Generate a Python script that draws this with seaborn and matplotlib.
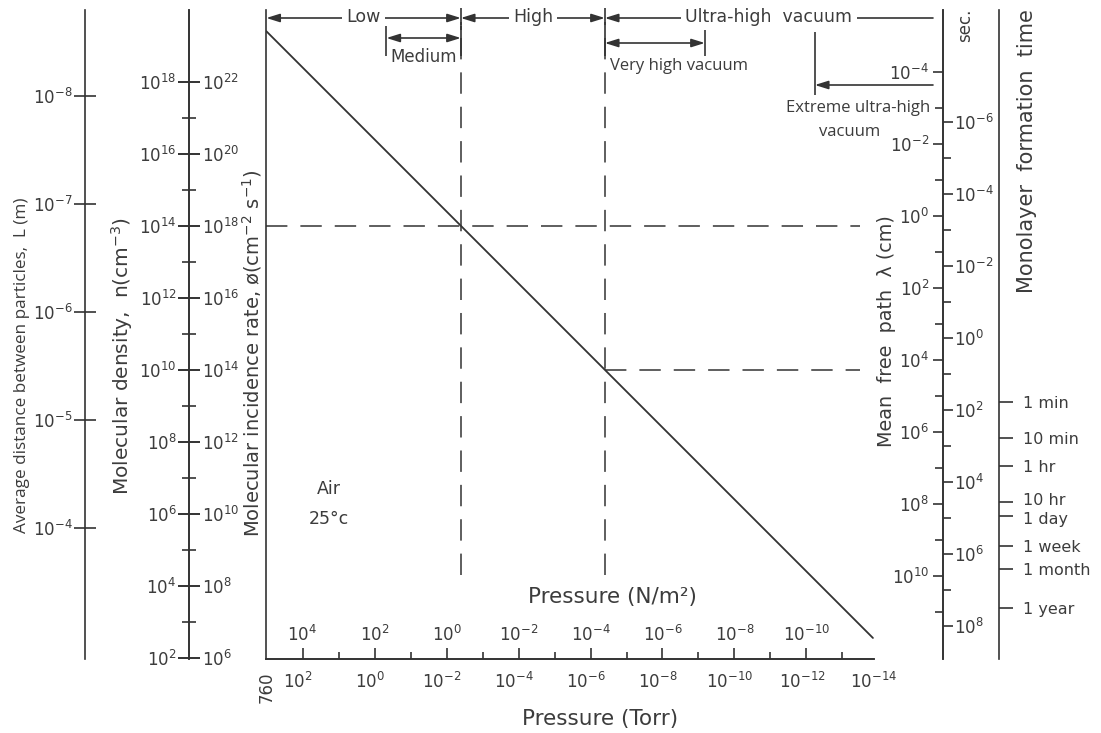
import numpy as np
import matplotlib
matplotlib.use("Agg")
import matplotlib.pyplot as plt
from matplotlib.ticker import NullFormatter
from matplotlib.transforms import ScaledTranslation
import seaborn as sns

# ---- values ----------------------------------------------------------
# the air line: pressure (Torr) against molecular density n (cm^-3)
line_torr = [760, 1.07e-14]
line_density = [2.58e19, 3.6e2]

torr_exp = [2, 0, -2, -4, -6, -8, -10, -12, -14]
torr_minor = [1e1, 1e-1, 1e-3, 1e-5, 1e-7, 1e-9, 1e-11, 1e-13]
pa_exp = [4, 2, 0, -2, -4, -6, -8, -10]
pa_minor = [1e3, 1e1, 1e-1, 1e-3, 1e-5, 1e-7, 1e-9, 1e-11]
density_exp = [18, 16, 14, 12, 10, 8, 6, 4, 2]
density_minor_exp = [17, 15, 13, 11, 9, 7, 5, 3]
flux_exp = [22, 20, 18, 16, 14, 12, 10, 8, 6]
spacing_exp = [-8, -7, -6, -5, -4]
mfp_exp = [-4, -2, 0, 2, 4, 6, 8, 10]
mfp_minor_exp = [-3, -1, 1, 3, 5, 7, 9, 11]
sec_exp = [-6, -4, -2, 0, 2, 4, 6, 8]
sec_minor_exp = [-5, -3, -1, 1, 3, 5, 7]
time_sec = [60, 600, 3600, 36000, 86400, 604800, 2.63e6, 3.156e7]
time_labels = ["1 min", "10 min", "1 hr", "10 hr", "1 day", "1 week", "1 month", "1 year"]

# dashed guides and vacuum ranges (Torr)
guide_torr = [3.0e-3, 3.0e-7]
guide_density = [1e14, 1e10]
guide_end_torr = 2.5e-14
range_names = ["Low", "High", "Ultra-high  vacuum"]
range_edges = [760, 3.0e-3, 3.0e-7, 2.3e-16]
medium_edges = [0.35, 3.0e-3]
very_high_edges = [3.0e-7, 5.0e-10]
extreme_start = 4.4e-13

# scale relations used by the side axes
PA_PER_TORR = 133.32
FLUX_PER_N = 1e4
L_REF, N_REF = 1e-7, 4.1e14
MFP_K = 1.9e14
TAU_K = 7.8e10

def dec(e):
    return "$10^{%d}$" % e

# ---- layout (pixels) ---------------------------------------------------
W, H = 1101, 733
AX_L, AX_R, AX_T, AX_B = 266.3, 874.0, 10.0, 659.0
INK = "#333333"
TXT = "#3c3c3c"
LW = 1.2
HUMANIST = ["Open Sans", "DejaVu Sans"]

def fx(xp):
    return (xp - AX_L) / (AX_R - AX_L)

def fy(yp):
    return (AX_B - yp) / (AX_B - AX_T)

sns.set_theme(style="white")
plt.rcParams["font.family"] = ["DejaVu Sans"]
plt.rcParams["mathtext.fontset"] = "dejavusans"
plt.rcParams["text.color"] = TXT

fig = plt.figure(figsize=(W / 100, H / 100), dpi=100)
ax = fig.add_axes([AX_L / W, 1 - AX_B / H, (AX_R - AX_L) / W, (AX_B - AX_T) / H])
ax.set_xscale("log")
ax.set_yscale("log")
ax.set_xlim(760, 1e-14)
ax.set_ylim(10 ** 1.972, 1e20)

sns.lineplot(x=line_torr, y=line_density, ax=ax, color=INK, linewidth=1.3)

# dashed guides
dash = (0, (14, 8.5))
ax.hlines(guide_density, xmin=[760, guide_torr[1]], xmax=guide_end_torr,
          colors=INK, linewidth=1.1, linestyles=[dash])
trans = ax.get_xaxis_transform()
ax.vlines(guide_torr, fy(575), fy(22), transform=trans, colors=INK,
          linewidth=1.1, linestyles=[dash])

# frame and pressure axes
ax.spines[["top", "right"]].set_visible(False)
for s in ("left", "bottom"):
    ax.spines[s].set_color(INK)
    ax.spines[s].set_linewidth(LW)
ax.tick_params(axis="y", which="both", left=False, labelleft=False)
ax.set_xticks([760] + [10.0 ** e for e in torr_exp], labels=["760"] + [dec(e) for e in torr_exp])
ax.set_xticks(torr_minor, minor=True)
ax.xaxis.set_minor_formatter(NullFormatter())
ax.tick_params(axis="x", which="major", direction="out", length=7, width=LW,
               color=INK, labelcolor=TXT, labelsize=12, pad=2)
ax.tick_params(axis="x", which="minor", direction="out", length=5, width=LW, color=INK)
ax.xaxis.get_major_ticks()[0].label1.set_rotation(90)
ax.set_xlabel("Pressure (Torr)", fontsize=15.5, color=TXT)
ax.xaxis.set_label_coords(600 / W, 1 - 719 / H, transform=fig.transFigure)
ax.xaxis.label.set(va="center", ha="center")

secx = ax.secondary_xaxis(0, functions=(lambda t: t * PA_PER_TORR, lambda p: p / PA_PER_TORR))
secx.set_alignment("top")
secx.set_ticks([10.0 ** e for e in pa_exp], labels=[dec(e) for e in pa_exp])
secx.set_ticks(pa_minor, minor=True)
secx.xaxis.set_minor_formatter(NullFormatter())
secx.tick_params(axis="x", which="major", direction="out", length=8, width=LW,
                 color=INK, labelcolor=TXT, labelsize=12, pad=2)
secx.tick_params(axis="x", which="minor", direction="out", length=5, width=LW, color=INK)
secx.spines["top"].set_color(INK)
secx.spines["top"].set_linewidth(LW)
secx.set_xlabel("Pressure (N/m²)", fontsize=15.5, color=TXT)
secx.xaxis.set_label_coords(612 / W, 1 - 597 / H, transform=fig.transFigure)
secx.xaxis.label.set(va="center", ha="center")


def side_axis(xp, funcs, side, major, labels, minor=None, direction="out",
              length=7, minor_length=5, pad=2, size=12):
    sec = ax.secondary_yaxis(fx(xp), functions=funcs)
    sec.set_alignment(side)
    sec.set_ticks(major, labels=labels)
    if minor is not None:
        sec.set_ticks(minor, minor=True)
    else:
        sec.set_ticks([], minor=True)
    sec.yaxis.set_minor_formatter(NullFormatter())
    sec.tick_params(axis="y", which="major", direction=direction, length=length,
                    width=LW, color=INK, labelcolor=TXT, labelsize=size, pad=pad)
    sec.tick_params(axis="y", which="minor", direction=direction,
                    length=minor_length, width=LW, color=INK)
    for s in ("left", "right"):
        sec.spines[s].set_color(INK)
        sec.spines[s].set_linewidth(LW)
    return sec


def side_label(sec, text, xp, yp, size, family=None):
    sec.set_ylabel(text, fontsize=size, color=TXT, family=family)
    sec.yaxis.set_label_coords(xp / W, 1 - yp / H, transform=fig.transFigure)
    sec.yaxis.label.set(va="center", ha="center", rotation=90, rotation_mode="anchor")


n_to_L = lambda n: L_REF * (np.asarray(n) / N_REF) ** (-1 / 3)
L_to_n = lambda L: N_REF * (np.asarray(L) / L_REF) ** (-3)
sec_L = side_axis(85, (n_to_L, L_to_n), "left", [10.0 ** e for e in spacing_exp],
                  [dec(e) for e in spacing_exp], direction="inout", length=16, pad=1)
side_label(sec_L, "Average distance between particles,  L (m)", 22, 365, 12.3, HUMANIST)

sec_n = side_axis(189, None, "left", [10.0 ** e for e in density_exp],
                  [dec(e) for e in density_exp], [10.0 ** e for e in density_minor_exp],
                  direction="inout", length=16, minor_length=10, pad=1)
side_label(sec_n, "Molecular density,  n(cm$^{-3}$)", 122, 356, 14.5)

sec_phi = side_axis(189, (lambda n: np.asarray(n) * FLUX_PER_N, lambda f: np.asarray(f) / FLUX_PER_N),
                    "right", [10.0 ** e for e in flux_exp], [dec(e) for e in flux_exp],
                    direction="inout", length=16, pad=1)
side_label(sec_phi, "Molecular incidence rate, ø(cm$^{-2}$ s$^{-1}$)", 252, 353, 14)

inv_mfp = lambda v: MFP_K / np.asarray(v)
sec_mfp = side_axis(943, (inv_mfp, inv_mfp), "left", [10.0 ** e for e in mfp_exp],
                    [dec(e) for e in mfp_exp], [10.0 ** e for e in mfp_minor_exp],
                    length=7, minor_length=5.5, pad=3)
side_label(sec_mfp, "Mean  free  path  λ (cm)", 886, 331, 13.8)

inv_tau = lambda v: TAU_K / np.asarray(v)
sec_sec = side_axis(943, (inv_tau, inv_tau), "right", [10.0 ** e for e in sec_exp],
                    [dec(e) for e in sec_exp], [10.0 ** e for e in sec_minor_exp],
                    length=7, minor_length=5.5, pad=1)
fig.text(965 / W, 1 - 25 / H, "sec.", rotation=90, ha="center", va="center", fontsize=12)

sec_time = side_axis(999, (inv_tau, inv_tau), "right", time_sec, time_labels,
                     length=10, pad=7, size=11.5)
side_label(sec_time, "Monolayer  formation  time", 1027, 151, 15)
# "10 hr" and "1 day" sit very close: nudge them apart a little
nudge = {"10 hr": 2.5, "1 day": -2.5}
for tick, lab in zip(sec_time.yaxis.get_major_ticks(), time_labels):
    if lab in nudge:
        for t in (tick.label1, tick.label2):
            t.set_transform(t.get_transform() +
                            ScaledTranslation(0, nudge[lab] / 100, fig.dpi_scale_trans))

# ---- vacuum ranges across the top ------------------------------------
head = "head_length=0.8,head_width=0.25"
for i, name in enumerate(range_names):
    lo, hi = range_edges[i], range_edges[i + 1]
    style = ("<|-|>," if i < len(range_names) - 1 else "<|-,") + head
    ax.annotate("", xy=(hi, fy(18)), xytext=(lo, fy(18)), xycoords=trans,
                arrowprops=dict(arrowstyle=style, color=INK, lw=LW, shrinkA=0,
                                shrinkB=0, mutation_scale=10))
    ax.text(np.sqrt(lo * hi), fy(17), name, transform=trans, ha="center", va="center",
            fontsize=12.5, bbox=dict(fc="white", ec="none", pad=3))

ax.vlines(guide_torr, fy(8), fy(30), transform=trans, colors=INK, linewidth=LW, clip_on=False)

ax.annotate("", xy=(medium_edges[1], fy(38)), xytext=(medium_edges[0], fy(38)), xycoords=trans,
            arrowprops=dict(arrowstyle="<|-|>," + head, color=INK, lw=LW, shrinkA=0,
                            shrinkB=0, mutation_scale=10))
ax.vlines(medium_edges, fy(26), fy(56), transform=trans, colors=INK, linewidth=LW)
ax.text(np.sqrt(medium_edges[0] * medium_edges[1]), fy(57), "Medium", transform=trans,
        ha="center", va="center", fontsize=12)

ax.annotate("", xy=(very_high_edges[1], fy(43)), xytext=(very_high_edges[0], fy(43)),
            xycoords=trans,
            arrowprops=dict(arrowstyle="<|-|>," + head, color=INK, lw=LW, shrinkA=0,
                            shrinkB=0, mutation_scale=10))
ax.vlines(very_high_edges, fy(30), fy(56), transform=trans, colors=INK, linewidth=LW)
ax.annotate("Very high vacuum", xy=(very_high_edges[0], fy(66)), xycoords=trans,
            xytext=(4, 0), textcoords="offset points", ha="left", va="center",
            fontsize=12, family=HUMANIST)

ax.vlines([extreme_start], fy(32), fy(95), transform=trans, colors=INK, linewidth=LW)
ax.annotate("", xy=(extreme_start, fy(85)), xytext=(range_edges[-1], fy(85)), xycoords=trans,
            arrowprops=dict(arrowstyle="-|>," + head, color=INK, lw=LW, shrinkA=0,
                            shrinkB=0, mutation_scale=10))
ax.annotate("Extreme ultra-high", xy=(range_edges[-1], fy(108)), xycoords=trans,
            xytext=(-2, 0), textcoords="offset points", ha="right", va="center",
            fontsize=12, family=HUMANIST)
ax.text(fx(850), fy(132), "vacuum", transform=ax.transAxes, ha="center", va="center",
        fontsize=12, family=HUMANIST)

ax.text(fx(329), fy(504), "Air\n25°c", transform=ax.transAxes, ha="center", va="center",
        fontsize=12.5, linespacing=1.8)

ax.set_xlim(760, 1e-14)
ax.set_ylim(10 ** 1.972, 1e20)
fig.savefig("out.png", dpi=100)
